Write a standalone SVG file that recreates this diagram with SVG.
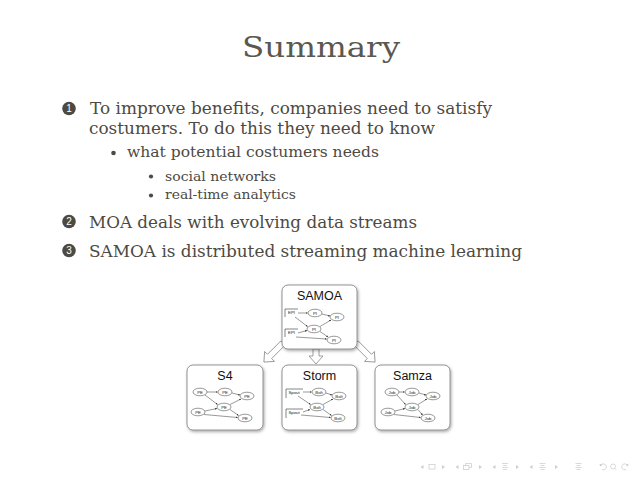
<svg xmlns="http://www.w3.org/2000/svg" width="638" height="479" viewBox="0 0 638 479">
<defs>
<style>
.t{font-family:"DejaVu Serif","Liberation Serif",serif;fill:#4d4a42}
.n{font-family:"Liberation Sans","DejaVu Sans",sans-serif;fill:#fff;font-size:10px;text-anchor:middle}
.bx{fill:#fff;stroke:#7a7a7a;stroke-width:0.8}
.ttl{font-family:"Liberation Sans","DejaVu Sans",sans-serif;font-size:12.5px;fill:#111;text-anchor:middle}
.nd{fill:#fff;stroke:#333;stroke-width:0.5}
.br{fill:none;stroke:#333;stroke-width:0.6}
.lb{font-family:"Liberation Sans","DejaVu Sans",sans-serif;font-size:4.3px;fill:#222;text-anchor:middle}
.ed{fill:none;stroke:#333;stroke-width:0.5;marker-end:url(#ah)}
.ba{fill:#fff;stroke:#888;stroke-width:0.8}
.nv{fill:none;stroke:#cfcfcf;stroke-width:0.8}
.nf{fill:#cfcfcf}
</style>
<marker id="ah" viewBox="0 0 6 6" refX="5.5" refY="3" markerWidth="4" markerHeight="4" orient="auto">
<path d="M0,0 L6,3 L0,6 z" fill="#333"/>
</marker>
<filter id="sh" x="-20%" y="-20%" width="140%" height="140%">
<feDropShadow dx="1" dy="1.5" stdDeviation="1.5" flood-color="#000" flood-opacity="0.35"/>
</filter>
</defs>
<rect width="638" height="479" fill="#fff"/>

<text class="t" x="242" y="57" font-size="27" textLength="158" lengthAdjust="spacingAndGlyphs" style="fill:#5b584f">Summary</text>

<g id="item1">
<circle cx="69" cy="108.5" r="6.8" fill="#4d4a42"/>
<text class="n" x="69" y="112">1</text>
<text class="t" x="90" y="114" font-size="17" textLength="402" lengthAdjust="spacingAndGlyphs">To improve benefits, companies need to satisfy</text>
<text class="t" x="89" y="134" font-size="17" textLength="346" lengthAdjust="spacingAndGlyphs">costumers. To do this they need to know</text>
<circle cx="113.5" cy="153" r="2.3" fill="#4d4a42"/>
<text class="t" x="127" y="157" font-size="14.5" textLength="252" lengthAdjust="spacingAndGlyphs">what potential costumers needs</text>
<circle cx="151" cy="176.5" r="2.1" fill="#4d4a42"/>
<text class="t" x="165" y="181" font-size="12.5" textLength="111" lengthAdjust="spacingAndGlyphs">social networks</text>
<circle cx="151" cy="195.5" r="2.1" fill="#4d4a42"/>
<text class="t" x="165" y="199" font-size="12.5" textLength="131" lengthAdjust="spacingAndGlyphs">real-time analytics</text>
</g>
<g id="item2">
<circle cx="69" cy="221.5" r="6.8" fill="#4d4a42"/>
<text class="n" x="69" y="225">2</text>
<text class="t" x="89" y="228" font-size="17" textLength="328" lengthAdjust="spacingAndGlyphs">MOA deals with evolving data streams</text>
</g>
<g id="item3">
<circle cx="69" cy="250.5" r="6.8" fill="#4d4a42"/>
<text class="n" x="69" y="254">3</text>
<text class="t" x="89" y="257" font-size="17" textLength="433" lengthAdjust="spacingAndGlyphs">SAMOA is distributed streaming machine learning</text>
</g>

<g id="connectors">
<polygon class="ba" transform="translate(283,343) rotate(45)" points="-3,0 3,0 3,19 7,19 0,27 -7,19 -3,19"/>
<polygon class="ba" transform="translate(316,349)" points="-3,0 3,0 3,7 7,7 0,15 -7,7 -3,7"/>
<polygon class="ba" transform="translate(356,343) rotate(-45)" points="-3,0 3,0 3,19 7,19 0,27 -7,19 -3,19"/>
</g>

<g id="samoa" transform="translate(282,285)">
<rect class="bx" x="0" y="0" width="75" height="64" rx="6" filter="url(#sh)"/>
<text class="ttl" x="37.5" y="14.5">SAMOA</text>
<path class="br" d="M16,24 H3 V32"/><text class="lb" x="9.5" y="28.5">EPI</text>
<path class="br" d="M16,44 H3 V52"/><text class="lb" x="9.5" y="48.5">EPI</text>
<ellipse class="nd" cx="33" cy="28" rx="7" ry="3.8"/><text class="lb" x="33" y="29.5">PI</text>
<ellipse class="nd" cx="55" cy="32" rx="7" ry="3.8"/><text class="lb" x="55" y="33.5">PI</text>
<ellipse class="nd" cx="32" cy="44" rx="7" ry="3.8"/><text class="lb" x="32" y="45.5">PI</text>
<ellipse class="nd" cx="52" cy="55" rx="7" ry="3.8"/><text class="lb" x="52" y="56.5">PI</text>
<path class="ed" d="M16,28 L25.5,28"/>
<path class="ed" d="M40,29 L48,31"/>
<path class="ed" d="M13,32 L25.5,41.5"/>
<path class="ed" d="M38,41.5 L49,35"/>
<path class="ed" d="M16,48 L25,45.5"/>
<path class="ed" d="M14,52 L44.5,54"/>
<path class="ed" d="M38,46.5 L46,52"/>
</g>

<g id="s4" transform="translate(187,365)">
<rect class="bx" x="0" y="0" width="76" height="65" rx="6" filter="url(#sh)"/>
<text class="ttl" x="38" y="15">S4</text>
<ellipse class="nd" cx="13" cy="27" rx="7" ry="3.8"/><text class="lb" x="13" y="28.5">PE</text>
<ellipse class="nd" cx="38" cy="27" rx="7" ry="3.8"/><text class="lb" x="38" y="28.5">PE</text>
<ellipse class="nd" cx="60" cy="31" rx="7" ry="3.8"/><text class="lb" x="60" y="32.5">PE</text>
<ellipse class="nd" cx="37" cy="42" rx="7" ry="3.8"/><text class="lb" x="37" y="43.5">PE</text>
<ellipse class="nd" cx="11" cy="47" rx="7" ry="3.8"/><text class="lb" x="11" y="48.5">PE</text>
<ellipse class="nd" cx="58" cy="53" rx="7" ry="3.8"/><text class="lb" x="58" y="54.5">PE</text>
<path class="ed" d="M20,27 L30.5,27"/>
<path class="ed" d="M45,28 L53,30"/>
<path class="ed" d="M18,30 L30.5,39.5"/>
<path class="ed" d="M43,39.5 L54,34"/>
<path class="ed" d="M18,46 L30,43.5"/>
<path class="ed" d="M17,49.5 L50.5,52.5"/>
<path class="ed" d="M43,44.5 L51.5,50.5"/>
</g>

<g id="storm" transform="translate(282,365)">
<rect class="bx" x="0" y="0" width="75" height="65" rx="6" filter="url(#sh)"/>
<text class="ttl" x="37.5" y="15">Storm</text>
<path class="br" d="M21,24 H4 V33"/><text class="lb" x="12" y="28.5">Spout</text>
<path class="br" d="M21,44 H4 V53"/><text class="lb" x="12" y="48.5">Spout</text>
<ellipse class="nd" cx="37" cy="27" rx="7" ry="3.8"/><text class="lb" x="37" y="28.5">Bolt</text>
<ellipse class="nd" cx="57" cy="31" rx="7" ry="3.8"/><text class="lb" x="57" y="32.5">Bolt</text>
<ellipse class="nd" cx="35" cy="42" rx="7" ry="3.8"/><text class="lb" x="35" y="43.5">Bolt</text>
<ellipse class="nd" cx="56" cy="53" rx="7" ry="3.8"/><text class="lb" x="56" y="54.5">Bolt</text>
<path class="ed" d="M21,27 L29.5,27"/>
<path class="ed" d="M44,28 L50,30"/>
<path class="ed" d="M16,31 L28.5,39.5"/>
<path class="ed" d="M41,39.5 L51,34"/>
<path class="ed" d="M21,47 L28,44.5"/>
<path class="ed" d="M19,50 L48.5,52.5"/>
<path class="ed" d="M41,44.5 L49.5,50.5"/>
</g>

<g id="samza" transform="translate(375,365)">
<rect class="bx" x="0" y="0" width="75" height="65" rx="6" filter="url(#sh)"/>
<text class="ttl" x="37.5" y="15">Samza</text>
<ellipse class="nd" cx="17" cy="27" rx="7" ry="3.8"/><text class="lb" x="17" y="28.5">Job</text>
<ellipse class="nd" cx="37" cy="27" rx="7" ry="3.8"/><text class="lb" x="37" y="28.5">Job</text>
<ellipse class="nd" cx="58" cy="31" rx="7" ry="3.8"/><text class="lb" x="58" y="32.5">Job</text>
<ellipse class="nd" cx="37" cy="42" rx="7" ry="3.8"/><text class="lb" x="37" y="43.5">Job</text>
<ellipse class="nd" cx="13" cy="47" rx="7" ry="3.8"/><text class="lb" x="13" y="48.5">Job</text>
<ellipse class="nd" cx="53" cy="53" rx="7" ry="3.8"/><text class="lb" x="53" y="54.5">Job</text>
<path class="ed" d="M24,27 L29.5,27"/>
<path class="ed" d="M44,28 L51,30"/>
<path class="ed" d="M22,30 L30.5,39.5"/>
<path class="ed" d="M43,39.5 L52,34"/>
<path class="ed" d="M20,46 L30,43.5"/>
<path class="ed" d="M19,49.5 L45.5,52.5"/>
<path class="ed" d="M43,44.5 L47.5,50"/>
</g>

<g id="nav">
<path class="nf" d="M423.5,465 L420.5,467 L423.5,469 z"/>
<rect class="nv" x="429" y="464.5" width="6" height="4.5"/>
<path class="nf" d="M442,465 L445,467 L442,469 z"/>
<path class="nf" d="M458.5,465 L455.5,467 L458.5,469 z"/>
<rect class="nv" x="463.5" y="465.5" width="5.5" height="4"/>
<path class="nv" d="M465.5,465.5 V463.5 H471.5 V467.5 H469"/>
<path class="nf" d="M479,465 L482,467 L479,469 z"/>
<path class="nf" d="M495.5,465 L492.5,467 L495.5,469 z"/>
<path class="nv" d="M502,463.5 H508 M503,465.5 H507 M502,467.5 H508 M503,469.5 H507"/>
<path class="nf" d="M516,465 L519,467 L516,469 z"/>
<path class="nf" d="M532.5,465 L529.5,467 L532.5,469 z"/>
<path class="nv" d="M539.5,463.5 H545.5 M540.5,465.5 H544.5 M539.5,467.5 H545.5 M540.5,469.5 H544.5"/>
<path class="nf" d="M555,465 L558,467 L555,469 z"/>
<path class="nv" d="M575.5,463.5 H581.5 M576.5,465.5 H580.5 M575.5,467.5 H581.5 M576.5,469.5 H580.5"/>
<path class="nv" d="M601,465 A3,3 0 1 1 602,469.5"/>
<path class="nf" d="M599.5,463.5 L602.5,465 L600,466.5 z"/>
<circle class="nv" cx="613" cy="466.5" r="2.5"/>
<path class="nv" d="M614.8,468.3 L616.5,470"/>
<path class="nv" d="M627,465 A3,3 0 1 0 626,469.5"/>
<path class="nf" d="M628.5,463.5 L625.5,465 L628,466.5 z"/>
</g>
</svg>
